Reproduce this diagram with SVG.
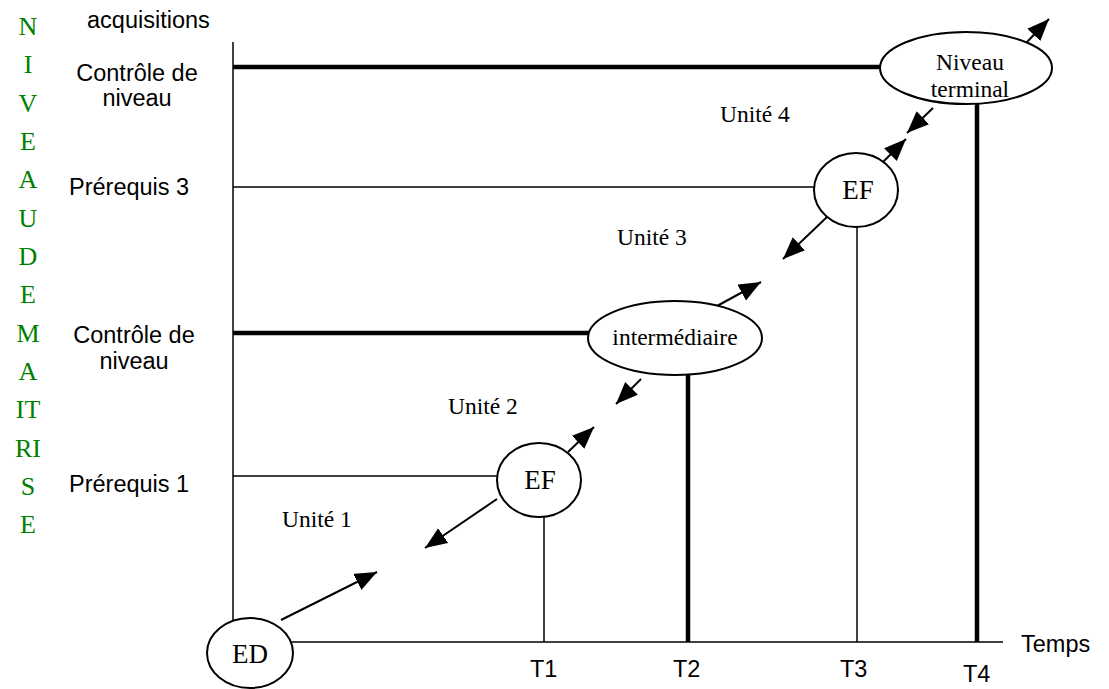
<svg xmlns="http://www.w3.org/2000/svg" width="1109" height="689" viewBox="0 0 1109 689">
<style>
.sans{font-family:"Liberation Sans",Arial,sans-serif;font-size:23.5px;fill:#000}
.serif{font-family:"Liberation Serif","Times New Roman",serif;font-size:23.5px;fill:#000}
.big{font-size:27px}
.green{font-family:"Liberation Serif","Times New Roman",serif;font-size:26px;fill:#008000;text-anchor:middle}
.thin{stroke:#000;stroke-width:1.5;fill:none}
.thick{stroke:#000;stroke-width:4.5;fill:none}
.arr{stroke:#000;stroke-width:2;fill:none;marker-end:url(#ah)}
.node{fill:#fff;stroke:#000;stroke-width:2}
</style>
<defs>
<marker id="ah" markerUnits="userSpaceOnUse" markerWidth="24" markerHeight="20" refX="22" refY="9" orient="auto">
<path d="M0,0 L22,9 L0,18 z" fill="#000"/>
</marker>
</defs>
<rect width="1109" height="689" fill="#fff"/>
<g id="axes">
<line class="thin" x1="233" y1="42" x2="233" y2="642"/>
<line class="thin" x1="233" y1="642" x2="1003" y2="642"/>
</g>
<g id="levels">
<line class="thick" x1="233" y1="67" x2="882" y2="67"/>
<line class="thin" x1="233" y1="187" x2="815" y2="187"/>
<line class="thick" x1="233" y1="333" x2="590" y2="333"/>
<line class="thin" x1="233" y1="476" x2="498" y2="476"/>
<line class="thin" x1="544" y1="516" x2="544" y2="642"/>
<line class="thick" x1="688" y1="374" x2="688" y2="642"/>
<line class="thin" x1="857" y1="226" x2="857" y2="642"/>
<line class="thick" x1="977" y1="103" x2="977" y2="642"/>
</g>
<g id="connectors">
<line class="arr" x1="281" y1="620" x2="377" y2="572"/>
<line class="arr" x1="497" y1="499" x2="425" y2="548"/>
<line class="arr" x1="568" y1="452" x2="594" y2="427"/>
<line class="arr" x1="641" y1="379" x2="616" y2="404"/>
<line class="arr" x1="717" y1="306" x2="761" y2="282"/>
<line class="arr" x1="827" y1="217" x2="783" y2="259"/>
<line class="arr" x1="883" y1="162" x2="906" y2="139"/>
<line class="arr" x1="933" y1="108" x2="907" y2="133"/>
<line class="arr" x1="1027" y1="42" x2="1049" y2="19"/>
</g>
<g id="node-ED">
<ellipse class="node" cx="250" cy="653" rx="43" ry="35"/>
<text class="serif big" x="250" y="663" text-anchor="middle">ED</text>
</g>
<g id="node-EF1">
<ellipse class="node" cx="539" cy="480" rx="42" ry="37"/>
<text class="serif big" x="540" y="489" text-anchor="middle">EF</text>
</g>
<g id="node-intermediaire">
<ellipse class="node" cx="675" cy="338" rx="87" ry="37"/>
<text class="serif" x="675" y="345" text-anchor="middle">intermédiaire</text>
</g>
<g id="node-EF2">
<ellipse class="node" cx="856" cy="190" rx="42" ry="37"/>
<text class="serif big" x="858" y="199" text-anchor="middle">EF</text>
</g>
<g id="node-terminal">
<ellipse class="node" cx="966" cy="68" rx="86" ry="36"/>
<text class="serif" x="970" y="70" text-anchor="middle">Niveau</text>
<text class="serif" x="970" y="97" text-anchor="middle">terminal</text>
</g>
<g id="unit-labels">
<text class="serif" x="720" y="122">Unité 4</text>
<text class="serif" x="617" y="245">Unité 3</text>
<text class="serif" x="448" y="414">Unité 2</text>
<text class="serif" x="282" y="527">Unité 1</text>
</g>
<g id="axis-labels">
<text class="sans" x="87" y="28">acquisitions</text>
<text class="sans" x="137" y="81" text-anchor="middle">Contrôle de</text>
<text class="sans" x="137" y="106" text-anchor="middle">niveau</text>
<text class="sans" x="69" y="195">Prérequis 3</text>
<text class="sans" x="134" y="343" text-anchor="middle">Contrôle de</text>
<text class="sans" x="134" y="369" text-anchor="middle">niveau</text>
<text class="sans" x="69" y="492">Prérequis 1</text>
<text class="sans" x="1021" y="652">Temps</text>
<text class="sans" x="530" y="677">T1</text>
<text class="sans" x="673" y="677">T2</text>
<text class="sans" x="840" y="677">T3</text>
<text class="sans" x="963" y="682">T4</text>
</g>
<g id="vertical-title">
<text class="green" x="28" y="35">N</text>
<text class="green" x="28" y="73">I</text>
<text class="green" x="28" y="112">V</text>
<text class="green" x="28" y="150">E</text>
<text class="green" x="28" y="188">A</text>
<text class="green" x="28" y="227">U</text>
<text class="green" x="28" y="265">D</text>
<text class="green" x="28" y="303">E</text>
<text class="green" x="28" y="342">M</text>
<text class="green" x="28" y="380">A</text>
<text class="green" x="28" y="418">IT</text>
<text class="green" x="28" y="457">RI</text>
<text class="green" x="28" y="495">S</text>
<text class="green" x="28" y="533">E</text>
</g>
</svg>
